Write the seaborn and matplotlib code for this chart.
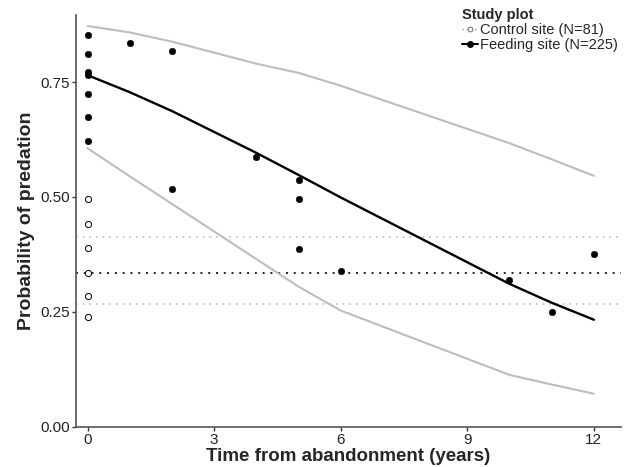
import pandas as pd
import matplotlib
matplotlib.use('Agg')
import matplotlib.pyplot as plt
from matplotlib.lines import Line2D
import seaborn as sns

# dados
feed_x = [0, 0, 0, 0, 0, 0, 0, 1, 2, 2, 4, 5, 5, 5, 6, 10, 11, 12]
feed_y = [0.852, 0.812, 0.771, 0.765, 0.723, 0.673, 0.621, 0.834, 0.817, 0.517,
          0.586, 0.537, 0.496, 0.387, 0.340, 0.320, 0.250, 0.377]

ctrl_x = [0, 0, 0, 0, 0, 0]
ctrl_y = [0.495, 0.441, 0.388, 0.335, 0.285, 0.238]

fit_x = [0, 1, 2, 4, 5, 6, 10, 11, 12]
fit_y = [0.765, 0.728, 0.687, 0.596, 0.548, 0.499, 0.311, 0.270, 0.233]
fit_hi = [0.872, 0.858, 0.838, 0.790, 0.770, 0.742, 0.617, 0.582, 0.546]
fit_lo = [0.606, 0.545, 0.485, 0.365, 0.305, 0.253, 0.113, 0.092, 0.072]

ctrl_mean = 0.335
ctrl_lo = 0.268
ctrl_hi = 0.412

df_feed = pd.DataFrame({'anos': feed_x, 'prob': feed_y})
df_ctrl = pd.DataFrame({'anos': ctrl_x, 'prob': ctrl_y})
df_fit = pd.DataFrame({'anos': fit_x, 'prob': fit_y, 'hi': fit_hi, 'lo': fit_lo})

sns.set_style('ticks')
plt.rcParams['font.family'] = ['Liberation Sans', 'DejaVu Sans']

fig = plt.figure(figsize=(6.24, 4.67), dpi=100)
ax = fig.add_axes([0.122, 0.086, 0.873, 0.882])

# linhas do controle
ax.axhline(ctrl_hi, color='#bdbdbd', ls=(0, (1, 3)), lw=1.2, zorder=1)
ax.axhline(ctrl_lo, color='#bdbdbd', ls=(0, (1, 3)), lw=1.2, zorder=1)
ax.axhline(ctrl_mean, color='#222222', ls=(0, (1, 3)), lw=1.4, zorder=1)

# ajuste do local de alimentação
sns.lineplot(data=df_fit, x='anos', y='hi', color='#bdbdbd', lw=1.5, ax=ax)
sns.lineplot(data=df_fit, x='anos', y='lo', color='#bdbdbd', lw=1.5, ax=ax)
sns.lineplot(data=df_fit, x='anos', y='prob', color='black', lw=1.7, ax=ax)

sns.scatterplot(data=df_ctrl, x='anos', y='prob', marker='o', s=20,
                facecolor='white', edgecolor='black', linewidth=0.7, ax=ax, zorder=3)
sns.scatterplot(data=df_feed, x='anos', y='prob', marker='o', s=22,
                color='black', edgecolor='black', ax=ax, zorder=3)

ax.set_xlim(-0.27, 12.64)
ax.set_ylim(0, 0.896)
ax.set_xticks([0, 3, 6, 9, 12])
ax.set_yticks([0, 0.25, 0.5, 0.75])
ax.set_yticklabels(['0.00', '0.25', '0.50', '0.75'])
ax.tick_params(labelsize=11, colors='#333333', length=3, width=1, pad=1.5)
ax.tick_params(labelcolor='#222222')
for s in ['top', 'right']:
    ax.spines[s].set_visible(False)
for s in ['left', 'bottom']:
    ax.spines[s].set_color('#555555')
    ax.spines[s].set_linewidth(1.2)

ax.set_xlabel('Time from abandonment (years)', fontsize=13.5, fontweight='bold')
ax.xaxis.set_label_coords(0.5, -0.052)
ax.set_ylabel('Probability of predation', fontsize=14, fontweight='bold', labelpad=4)

handles = [
    Line2D([], [], color='#999999', ls=(0, (1, 2)), lw=1, marker='o', ms=3.5,
           mfc='white', mec='#555555', mew=0.6),
    Line2D([], [], color='black', lw=1.5, marker='o', ms=4, mfc='black', mec='black'),
]
leg = ax.legend(handles, ['Control site (N=81)', 'Feeding site (N=225)'],
                title='Study plot', loc='upper right', bbox_to_anchor=(1.012, 1.012),
                bbox_transform=fig.transFigure, frameon=False, fontsize=10.5,
                title_fontsize=10.5, handlelength=1.1, handletextpad=0.2,
                labelspacing=0.1, borderaxespad=0.5, alignment='left')
leg.get_title().set_fontweight('bold')

fig.savefig('out.png', dpi=100)
